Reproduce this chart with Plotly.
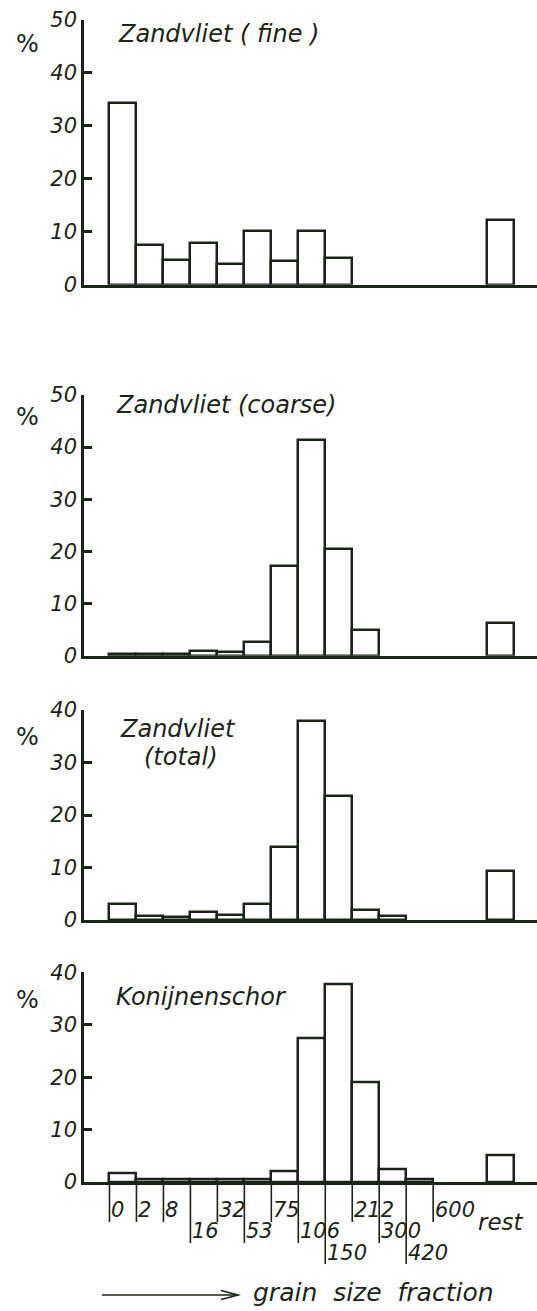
import plotly.graph_objects as go

W, H = 537, 1311
INK = "#1b2419"
FONT = "DejaVu Sans"

# ---------------- data ----------------
categories = ["0-2", "2-8", "8-16", "16-32", "32-53", "53-75", "75-106",
              "106-150", "150-212", "212-300", "300-420", "420-600",
              " ", "  ", "rest"]

fine = [34.3, 7.5, 4.6, 7.8, 3.9, 10.1, 4.4, 10.1, 5.0, None, None, None, None, None, 12.2]
coarse = [0.3, 0.3, 0.3, 0.9, 0.8, 2.7, 17.2, 41.4, 20.4, 5.0, None, None, None, None, 6.3]
total = [3.1, 0.7, 0.6, 1.5, 1.0, 3.0, 14.0, 37.9, 23.7, 2.0, 0.8, None, None, None, 9.4]
konijnenschor = [1.6, 0.5, 0.5, 0.5, 0.5, 0.5, 2.0, 27.5, 37.7, 19.0, 2.5, 0.5, None, None, 5.1]

edge_labels = ["0", "2", "8", "16", "32", "53", "75", "106", "150", "212", "300", "420", "600"]
edge_rows = [1, 1, 1, 2, 1, 2, 1, 2, 3, 1, 2, 3, 1]

y_tops = [50, 50, 40, 40]
series = [fine, coarse, total, konijnenschor]

# ---------------- layout helpers (pixel -> paper) ----------------
def px(x):
    return x / W

def py(y):
    return 1 - y / H

# panel vertical extents in pixels: (top tick, baseline)
panels_px = [(20, 284.7), (395, 655.7), (710, 920), (972.3, 1182)]
x_dom = [px(84), 1.0]
x_range = [-1.445, 15.35]

fig = go.Figure()
layout = dict(
    width=W, height=H,
    margin=dict(l=0, r=0, t=0, b=0, autoexpand=False),
    paper_bgcolor="white", plot_bgcolor="white",
    showlegend=False, bargap=0,
    font=dict(family=FONT, color=INK),
)

for i, (vals, top) in enumerate(zip(series, y_tops)):
    n = "" if i == 0 else str(i + 1)
    fig.add_trace(go.Bar(
        x=categories, y=vals, width=1,
        marker=dict(color="white", line=dict(color=INK, width=2.5)),
        xaxis="x" + n, yaxis="y" + n,
    ))
    t, b = panels_px[i]
    layout["xaxis" + n] = dict(
        domain=x_dom, range=x_range, type="category",
        categoryorder="array", categoryarray=categories,
        showline=True, linecolor=INK, linewidth=2.5,
        showticklabels=False, ticks="", showgrid=False, zeroline=False,
        anchor="y" + n, fixedrange=True, automargin=False,
    )
    layout["yaxis" + n] = dict(
        domain=[py(b), py(t)], range=[0, top],
        showline=True, linecolor=INK, linewidth=2.5,
        ticks="inside", ticklen=8, tickwidth=2.5, tickcolor=INK,
        dtick=10, tick0=0, showgrid=False, zeroline=False,
        tickfont=dict(family=FONT, size=21, color=INK, style="italic"),
        anchor="x" + n, fixedrange=True, automargin=False,
    )

fig.update_layout(**layout)

ann = []
title_font = dict(family=FONT, size=24, color=INK, style="italic")

# "%" labels
for ypx in [44, 417, 737, 1000]:
    ann.append(dict(text="%", xref="paper", yref="paper", x=px(27), y=py(ypx),
                    xanchor="center", yanchor="middle", showarrow=False,
                    font=dict(family=FONT, size=24, color=INK)))

# panel titles
ann.append(dict(text="Zandvliet ( fine )", xref="paper", yref="paper", x=px(116), y=py(34),
                xanchor="left", yanchor="middle", showarrow=False, font=title_font))
ann.append(dict(text="Zandvliet (coarse)", xref="paper", yref="paper", x=px(114), y=py(405),
                xanchor="left", yanchor="middle", showarrow=False, font=title_font))
ann.append(dict(text="Zandvliet", xref="paper", yref="paper", x=px(178), y=py(729),
                xanchor="center", yanchor="middle", showarrow=False, font=title_font))
ann.append(dict(text="(total)", xref="paper", yref="paper", x=px(181), y=py(757),
                xanchor="center", yanchor="middle", showarrow=False, font=title_font))
ann.append(dict(text="Konijnenschor", xref="paper", yref="paper", x=px(114), y=py(997),
                xanchor="left", yanchor="middle", showarrow=False, font=title_font))

# class-boundary ticks and labels under the bottom panel
row_line_end = {1: 1222, 2: 1243, 3: 1264}
row_label_y = {1: 1210, 2: 1231, 3: 1253}
base_px = panels_px[3][1]
shapes = []
tick_font = dict(family=FONT, size=21, color=INK, style="italic")
for k, (lab, row) in enumerate(zip(edge_labels, edge_rows)):
    xe = k - 0.5
    shapes.append(dict(type="line", xref="x4", yref="paper", x0=xe, x1=xe,
                       y0=py(base_px), y1=py(row_line_end[row]),
                       line=dict(color=INK, width=1.6)))
    ann.append(dict(text=lab, xref="x4", yref="paper", x=xe, y=py(row_label_y[row]),
                    xanchor="left", yanchor="middle", xshift=0, showarrow=False,
                    font=tick_font))
ann.append(dict(text="rest", xref="x4", yref="paper", x=categories.index("rest"), y=py(1222),
                xanchor="center", yanchor="middle", showarrow=False,
                font=dict(family=FONT, size=23, color=INK, style="italic")))

# arrow + axis caption
ay = py(1295)
shapes.append(dict(type="line", xref="paper", yref="paper", x0=px(102), x1=px(237),
                   y0=ay, y1=ay, line=dict(color=INK, width=1.6)))
shapes.append(dict(type="path", xref="paper", yref="paper",
                   path=f"M{px(221)},{py(1290.5)} L{px(238)},{ay} L{px(221)},{py(1299.5)}",
                   line=dict(color=INK, width=1.6)))
ann.append(dict(text="grain\u00a0 size\u00a0 fraction", xref="paper", yref="paper",
                x=px(251), y=py(1292), xanchor="left", yanchor="middle", showarrow=False,
                font=dict(family=FONT, size=25, color=INK, style="italic")))

fig.update_layout(annotations=ann, shapes=shapes)
fig.write_html(
    "out.html",
    config={"responsive": False, "displayModeBar": False},
    post_script="document.body.style.margin='0';document.body.style.overflow='hidden';",
)
